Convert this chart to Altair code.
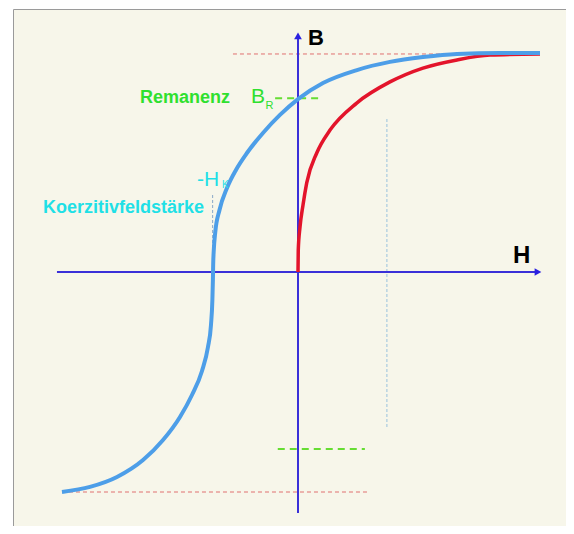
import altair as alt
import pandas as pd

# ---- data (H in coercive-field units, B in saturation units) ----
blue_H = [-2.682, -2.364, -2.057, -1.761, -1.534, -1.341, -1.205, -1.091, -1.023, -0.989,
          -0.973, -0.967, -0.964, -0.957, -0.940, -0.892, -0.807, -0.705, -0.580, -0.398,
          -0.205, 0.0, 0.284, 0.670, 1.045, 1.420, 1.807, 2.295, 2.75]
blue_B = [-1.0, -0.977, -0.932, -0.855, -0.764, -0.659, -0.559, -0.450, -0.341, -0.241,
          -0.127, -0.036, 0.032, 0.100, 0.182, 0.282, 0.382, 0.464, 0.541, 0.632,
          0.714, 0.786, 0.859, 0.918, 0.955, 0.977, 0.991, 0.995, 0.995]

red_H = [0.0, 0.003, 0.023, 0.057, 0.099, 0.213, 0.364, 0.667, 1.045, 1.420, 1.807, 2.182, 2.75]
red_B = [0.0, 0.1, 0.205, 0.305, 0.405, 0.541, 0.645, 0.768, 0.864, 0.927, 0.964, 0.986, 0.991]

# dashed helper lines: (H1, H2, B1, B2)
sat_lines = [(-0.739, 2.75, 0.991, 0.991), (-2.682, 0.795, -1.0, -1.0)]
rem_lines = [(-0.26, 0.25, 0.79, 0.79), (-0.23, 0.76, -0.805, -0.805)]
hk_plus_line = [(1.01, 1.01, 0.695, -0.705)]
hk_minus_line = [(-0.97, -0.97, 0.35, 0.0)]

# axes
h_axis = (-2.739, 2.705)
b_axis = (-1.095, 1.073)
arrow_H = [2.727, 0.0]
arrow_B = [0.0, 1.073]
arrow_shape = ["triangle-right", "triangle-up"]

# labels
bold_text = ["Remanenz", "Koerzitivfeldstärke", "B", "H"]
bold_H = [-1.795, -2.898, 0.114, 2.443]
bold_B = [0.768, 0.268, 1.032, 0.041]
bold_size = [18, 18, 22, 24]
bold_color = ["#2fe02f", "#1fe0e6", "#000000", "#000000"]

reg_text = ["B", "R", "-H", "K"]
reg_H = [-0.534, -0.369, -1.148, -0.864]
reg_B = [0.768, 0.743, 0.393, 0.380]
reg_size = [21, 11, 21, 10]
reg_color = ["#2fe02f", "#2fe02f", "#1fe0e6", "#1fe0e6"]

# ---- scales: page pixels -> data ----
W, HGT = 558, 518
xmin, xmax = (8 - 298) / 88, (566 - 298) / 88
ymin, ymax = (272 - 526) / 220, (272 - 8) / 220
xs = alt.Scale(domain=[xmin, xmax], nice=False, zero=False)
ys = alt.Scale(domain=[ymin, ymax], nice=False, zero=False)


def X(f="H"):
    return alt.X(f"{f}:Q", scale=xs, axis=None)


def Y(f="B"):
    return alt.Y(f"{f}:Q", scale=ys, axis=None)


panel_left = (13.5 - 298) / 88
panel_top = (272 - 9.5) / 220

bg = alt.Chart(pd.DataFrame({"H": [panel_left], "H2": [xmax], "B": [panel_top], "B2": [ymin]})).mark_rect(
    color="#f7f6ea").encode(x=X(), x2="H2:Q", y=Y(), y2="B2:Q")

border_v = alt.Chart(pd.DataFrame({"H": [panel_left], "B": [panel_top], "B2": [ymin]})).mark_rule(
    color="#9a9a9a", strokeWidth=1).encode(x=X(), y=Y(), y2="B2:Q")
border_h = alt.Chart(pd.DataFrame({"H": [panel_left], "H2": [xmax], "B": [panel_top]})).mark_rule(
    color="#9a9a9a", strokeWidth=1).encode(x=X(), x2="H2:Q", y=Y())


def seg_df(lst):
    return pd.DataFrame(lst, columns=["H", "H2", "B", "B2"])


def hseg(lst, **kw):
    return alt.Chart(seg_df(lst)).mark_rule(**kw).encode(x=X(), x2="H2:Q", y=Y())


def vseg(lst, **kw):
    return alt.Chart(seg_df(lst)).mark_rule(**kw).encode(x=X(), y=Y(), y2="B2:Q")


sat = hseg(sat_lines, color="#e07070", strokeWidth=1, strokeDash=[4, 3])
rem = hseg(rem_lines, color="#66dd33", strokeWidth=2, strokeDash=[7, 5])
hkp = vseg(hk_plus_line, color="#a9cbe0", strokeWidth=1.2, strokeDash=[3, 2])
hkm = vseg(hk_minus_line, color="#8aa8c8", strokeWidth=1, strokeDash=[3, 2])

haxis = alt.Chart(pd.DataFrame({"H": [h_axis[0]], "H2": [h_axis[1]], "B": [0.0]})).mark_rule(
    color="#3a30d8", strokeWidth=2).encode(x=X(), x2="H2:Q", y=Y())
baxis = alt.Chart(pd.DataFrame({"H": [0.0], "B": [b_axis[0]], "B2": [b_axis[1]]})).mark_rule(
    color="#3a30d8", strokeWidth=2).encode(x=X(), y=Y(), y2="B2:Q")

arrows = alt.Chart(pd.DataFrame({"H": arrow_H, "B": arrow_B, "s": arrow_shape})).mark_point(
    filled=True, color="#2a20e0", size=60, opacity=1).encode(
    x=X(), y=Y(), shape=alt.Shape("s:N", scale=None))

red = alt.Chart(pd.DataFrame({"H": red_H, "B": red_B, "i": range(len(red_H))})).mark_line(
    color="#e3142b", strokeWidth=3.5, interpolate="monotone").encode(
    x=X(), y=Y(), order="i:Q")
blue = alt.Chart(pd.DataFrame({"H": blue_H, "B": blue_B, "i": range(len(blue_H))})).mark_line(
    color="#4d9ee8", strokeWidth=4, interpolate="monotone").encode(
    x=X(), y=Y(), order="i:Q")

font = "Liberation Sans, Arial, sans-serif"
tb = alt.Chart(pd.DataFrame({"H": bold_H, "B": bold_B, "t": bold_text, "s": bold_size, "c": bold_color})).mark_text(
    font=font, fontWeight="bold", align="left", baseline="alphabetic").encode(
    x=X(), y=Y(), text="t:N", size=alt.Size("s:Q", scale=None), color=alt.Color("c:N", scale=None))
tr = alt.Chart(pd.DataFrame({"H": reg_H, "B": reg_B, "t": reg_text, "s": reg_size, "c": reg_color})).mark_text(
    font=font, align="left", baseline="alphabetic").encode(
    x=X(), y=Y(), text="t:N", size=alt.Size("s:Q", scale=None), color=alt.Color("c:N", scale=None))

chart = alt.layer(bg, border_v, border_h, sat, rem, hkp, hkm, haxis, baxis, red, blue, arrows, tb, tr).properties(
    width=W, height=HGT, padding=0, autosize=alt.AutoSizeParams(type="none"), background="#ffffff"
).configure_view(stroke=None)

chart.save("out.html", embed_options={"renderer": "svg", "actions": False})
